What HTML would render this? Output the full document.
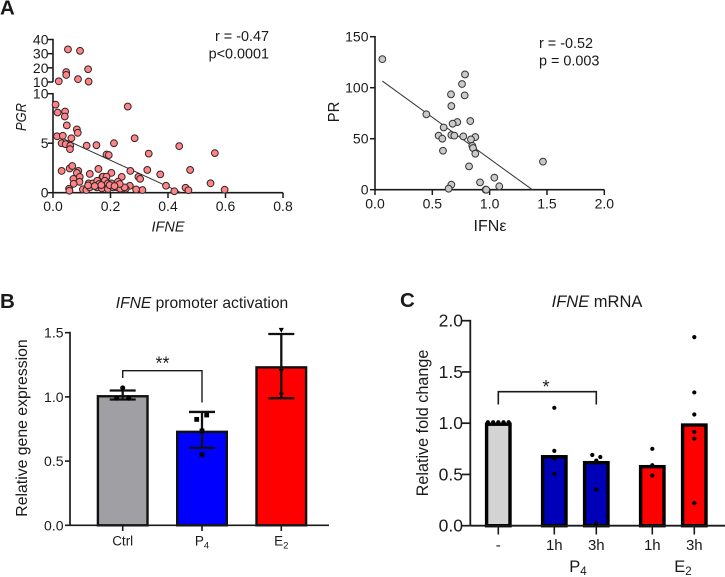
<!DOCTYPE html>
<html>
<head>
<meta charset="utf-8">
<style>
html,body{margin:0;padding:0;background:#fff;width:725px;height:577px;overflow:hidden}
svg{display:block;font-family:"Liberation Sans",sans-serif;fill:#1a1a1a}
text{fill:#1a1a1a}
</style>
</head>
<body>
<svg id="fig" width="725" height="577" viewBox="0 0 725 577" xmlns="http://www.w3.org/2000/svg">
  <text x="0" y="14.5" font-size="20.5" font-weight="bold" fill="#000">A</text>
  <text x="0" y="308" font-size="20.5" font-weight="bold">B</text>
  <text x="400" y="307" font-size="20.5" font-weight="bold">C</text>

  <text x="269" y="41" font-size="14.4" text-anchor="end">r = -0.47</text>
  <text x="269" y="58.5" font-size="14.4" text-anchor="end">p&lt;0.0001</text>
  <text x="168" y="231.5" font-size="14.5" font-style="italic" text-anchor="middle">IFNE</text>
  <text transform="translate(26,117) rotate(-90)" font-size="15" font-style="italic" text-anchor="middle" textLength="28" lengthAdjust="spacingAndGlyphs">PGR</text>

  <text x="539" y="48" font-size="14.4">r = -0.52</text>
  <text x="539" y="65.5" font-size="14.4">p = 0.003</text>
  <text x="490" y="231" font-size="16" text-anchor="middle">IFNε</text>
  <text transform="translate(339,112) rotate(-90)" font-size="15.5" text-anchor="middle" textLength="20.5" lengthAdjust="spacingAndGlyphs">PR</text>

  <text x="202" y="308" font-size="15.6" text-anchor="middle"><tspan font-style="italic">IFNE</tspan> promoter activation</text>
  <text transform="translate(27,428) rotate(-90)" font-size="15.8" text-anchor="middle">Relative gene expression</text>

  <text x="597" y="307" font-size="16.5" text-anchor="middle"><tspan font-style="italic">IFNE</tspan> mRNA</text>
  <text transform="translate(428,423) rotate(-90)" font-size="16.2" text-anchor="middle">Relative fold change</text>
  <text x="578" y="572" font-size="16.5" text-anchor="middle">P<tspan font-size="11.5" dy="3">4</tspan></text>
  <text x="683" y="572" font-size="16.5" text-anchor="middle">E<tspan font-size="11.5" dy="3">2</tspan></text>
</svg>
<script>
// Panel A left: PGR vs IFNE
const pgrIfne = [.052,.094,.122,.046,.046,.087,.02,.124,
 .009,.016,.042,.041,.048,.083,.086,.014,.034,.064,.03,.044,.06,.059,.117,.151,.212,.26,.284,.186,.194,.333,.439,.563,
 .03,.058,.067,.088,.083,.128,.158,.203,.269,.328,.373,.477,.239,.172,.186,.297,.303,.071,.093,.092,.072,.056,.057,.548,.393,.267,.461,.422,.471,.597,.311,.289,.253,.234,
 .104,.116,.124,.128,.139,.154,.153,.16,.174,.17,.186,.18,.191,.191,.203,.209,.226,.223,.234,.249,.122,.145,.197,.232,.214,.168];
const pgrValues = [33,32,19,17,15,12,10.5,10.3,
 8.9,8.1,8.2,7.7,6.8,6.4,6.05,5.7,5.75,5.5,5,4.9,4.75,4.4,4.75,4.8,5,8.7,5.5,3.85,3.8,3.95,4.7,4,
 2.2,2.45,2.7,2.2,2,1.9,2.4,2,2.2,2.3,1.85,2.3,1.6,1.6,1.6,1.6,1.4,1.4,1.6,1.1,.9,.4,.2,.95,.7,.7,.5,.15,.25,.3,.27,.33,.4,.45,
 .34,.27,.94,.54,.94,1.21,.54,.88,1.62,.44,1.62,1.21,.94,.37,.94,.54,1.11,.54,.4,.54,.74,.67,.77,.88,.67,.77];
const pgrFitX = [.014,.446];
const pgrFitY = [5.75,0];
const pgrXTicks = [0,.2,.4,.6,.8];
const pgrYTicksLow = [0,5,10];
const pgrYTicksHigh = [10,20,30,40];

// Panel A right: PR vs IFN-epsilon
const prIfn = [.064,.785,.759,.663,.782,.666,.448,.831,.718,.677,.599,.555,.587,.666,.692,.77,.875,.837,.849,.855,.875,.593,.82,1.465,.916,1.041,1.084,.666,.642,.965,.97];
const prValues = [128,113,103.6,93.5,92.5,82,73.9,67.3,66.3,64.7,61,53,50,53.6,53,52.3,51.6,49.3,43,40.8,35.3,38.2,22.9,27.5,7.2,11.8,3.3,4.9,1,0,0];
const prFitX = [.064,1.372];
const prFitY = [106.5,0];
const prXTicks = [0,.5,1,1.5,2];
const prYTicks = [0,50,100,150];

// Panel B: promoter activation
const promoterGroups = ['Ctrl','P','E'];
const promoterSubs = ['','4','2'];
const promoterMeans = [1.005,.728,1.23];
const promoterErrHigh = [1.05,.883,1.49];
const promoterErrLow = [.98,.603,.99];
const promoterFills = ['#a0a0a4','#0000ff','#ff0000'];
const promoterYTicks = [0,.5,1,1.5];
const ctrlDots = [1.07,.99,.99];
const p4Squares = [.825,.859,.735,.55];
const e2Triangles = [1.52,1.2,1.015];

// Panel C: mRNA
const mrnaLabels = ['-','1h','3h','1h','3h'];
const mrnaMeans = [.99,.673,.615,.576,.982];
const mrnaFills = ['#d3d3d3','#0000b8','#0000b8','#ff0000','#ff0000'];
const mrnaDots0 = [1.01,1.01,1.01,1.01,1.01];
const mrnaDots1 = [1.15,.73,.655,.507];
const mrnaDots2 = [.69,.67,.635,.355,.02];
const mrnaDots3 = [.75,.59,.49];
const mrnaDots4 = [1.84,1.3,1.085,.915,.85,.22];
const mrnaYTicks = [0,.5,1,1.5,2];

const svg = document.getElementById('fig');
const NS = 'http://www.w3.org/2000/svg';
function make(tag, attrs, parent) {
  const el = document.createElementNS(NS, tag);
  for (const k in attrs) el.setAttribute(k, attrs[k]);
  (parent || svg).appendChild(el);
  return el;
}
function seg(x1, y1, x2, y2, w, col) {
  return make('line', {x1, y1, x2, y2, stroke: col || '#1a1a1a', 'stroke-width': w});
}
function label(x, y, str, size, anchor) {
  const t = make('text', {x, y, 'font-size': size, 'text-anchor': anchor});
  t.textContent = str;
  return t;
}

/* ---------- axis functions ---------- */
const xPgr = v => 53 + v / .8 * 230;
const yPgr = v => v <= 10 && v >= 0 ? 192.7 - v * 9.9 : 82 - (v - 10) * 1.4167;
const yPgrHigh = v => 82 - (v - 10) * 1.4167;
const xPr = v => 375 + v / 2 * 229.3;
const yPr = v => 189.7 - v * 1.02;
const yPro = v => 525.3 - v * 128.4;
const xPro = i => 122.7 + i * 79.3;
const yMr = v => 525.7 - v * 102.5;
const mrnaX = [498.3, 554.3, 596.3, 652.3, 694.3];

let el;
/* ---------- Panel A left ---------- */
el = seg(53, 192.7, 283, 192.7, 1.6);


el = seg(53, yPgr(0), 53, yPgr(10) - .7, 1.6);


el = seg(53, yPgrHigh(10), 53, yPgrHigh(40) - .7, 1.6);


pgrXTicks.forEach(v => {
  el = seg(xPgr(v), 192.7, xPgr(v), 198, 1.5);
  
  
  el = label(xPgr(v), 211, v.toFixed(1), 14, 'middle');
  
  
});
pgrYTicksLow.forEach(v => {
  el = seg(48, yPgr(v), 53, yPgr(v), 1.5);
  
  
  el = label(48.5, yPgr(v) + 5, String(v), 14, 'end');
  
  
});
pgrYTicksHigh.forEach(v => {
  el = seg(48, yPgrHigh(v), 53, yPgrHigh(v), 1.5);
  
  
  el = label(48.5, yPgrHigh(v) + 5, String(v), 14, 'end');
  
  
});
el = seg(xPgr(pgrFitX[0]), yPgr(pgrFitY[0]), xPgr(pgrFitX[1]), yPgr(pgrFitY[1]), 1, '#333');


pgrIfne.forEach((x, i) => {
  el = make('circle', {cx: xPgr(x), cy: yPgr(pgrValues[i]), r: 3.4, fill: '#ff8488', stroke: '#332525', 'stroke-width': 1});
  
  
});

/* ---------- Panel A right ---------- */
el = seg(375, 189.7, 604.3, 189.7, 1.6);


el = seg(375, yPr(0), 375, yPr(150) - .7, 1.6);


prXTicks.forEach(v => {
  el = seg(xPr(v), 189.7, xPr(v), 195, 1.5);
  
  
  el = label(xPr(v), 208.5, v.toFixed(1), 14, 'middle');
  
  
});
prYTicks.forEach(v => {
  el = seg(370, yPr(v), 375, yPr(v), 1.5);
  
  
  el = label(368.5, yPr(v) + 5, String(v), 14, 'end');
  
  
});
el = seg(xPr(prFitX[0]), yPr(prFitY[0]), xPr(prFitX[1]), yPr(prFitY[1]), 1, '#333');


prIfn.forEach((x, i) => {
  el = make('circle', {cx: xPr(x), cy: yPr(prValues[i]), r: 3.4, fill: '#c9c9c9', stroke: '#333', 'stroke-width': 1});
  
  
});

/* ---------- Panel B ---------- */
promoterMeans.forEach((m, i) => {
  el = make('rect', {x: xPro(i) - 24.8, y: yPro(m), width: 49.6, height: yPro(0) - yPro(m), fill: promoterFills[i], stroke: '#111', 'stroke-width': 2.4});
  
  
});
el = seg(70, 525.3, 329, 525.3, 1.7);


el = seg(70, yPro(0), 70, yPro(1.5) - 1, 1.7);


promoterYTicks.forEach(v => {
  el = seg(65, yPro(v), 70, yPro(v), 1.6);
  
  
  el = label(63.5, yPro(v) + 5, v.toFixed(1), 14, 'end');
  
  
});
promoterGroups.forEach((g, i) => {
  el = seg(xPro(i), 525.3, xPro(i), 531, 1.6);
  
  
  el = label(xPro(i), 545.5, g, 13.5, 'middle');
  
  
  if (promoterSubs[i]) {
    const s = make('tspan', {'font-size': 9.5, dy: 3});
    s.textContent = promoterSubs[i];
    el.appendChild(s);
  }
  el = seg(xPro(i), yPro(promoterErrHigh[i]), xPro(i), yPro(promoterErrLow[i]), 2.3, '#111');
  
  
  el = seg(xPro(i) - 13, yPro(promoterErrHigh[i]), xPro(i) + 13, yPro(promoterErrHigh[i]), 2.3, '#111');
  
  
  el = seg(xPro(i) - 13, yPro(promoterErrLow[i]), xPro(i) + 13, yPro(promoterErrLow[i]), 2.3, '#111');
  
  
});
ctrlDots.forEach((v, i) => {
  el = make('circle', {cx: xPro(0) + [0, -6, 6][i], cy: yPro(v), r: 2.5, fill: '#000'});
  
  
});
p4Squares.forEach((v, i) => {
  const cx = xPro(1) + [-5.3, 4.7, 0, 0][i];
  el = make('rect', {x: cx - 2.4, y: yPro(v) - 2.4, width: 4.8, height: 4.8, fill: '#000'});
  
  
});
e2Triangles.forEach(v => {
  const cx = xPro(2), cy = yPro(v);
  el = make('polygon', {points: (cx - 2.6) + ',' + (cy - 2.2) + ' ' + (cx + 2.6) + ',' + (cy - 2.2) + ' ' + cx + ',' + (cy + 2.6), fill: '#000'});
  
  
});
el = make('path', {d: 'M' + xPro(0) + ' 378V370.7H' + xPro(1) + 'V402.5', fill: 'none', stroke: '#1a1a1a', 'stroke-width': 1.4});


el = label(162.5, 369.5, '**', 18, 'middle');



/* ---------- Panel C ---------- */
mrnaMeans.forEach((m, i) => {
  el = make('rect', {x: mrnaX[i] - 11.7, y: yMr(m), width: 23.4, height: yMr(0) - yMr(m), fill: mrnaFills[i], stroke: '#000', 'stroke-width': 3.4});
  
  
});
el = seg(470.3, 525.7, 725, 525.7, 1.8);


el = seg(470.3, yMr(0), 470.3, yMr(2) - .8, 1.8);


mrnaYTicks.forEach(v => {
  el = seg(462, yMr(v), 470.3, yMr(v), 1.7);
  
  
  el = label(463, yMr(v) + 6, v.toFixed(1), 17.5, 'end');
  
  
});
mrnaLabels.forEach((t, i) => {
  el = seg(mrnaX[i], 526, mrnaX[i], 534.5, 1.6);
  
  
  el = label(mrnaX[i], 550, t, 15, 'middle');
  
  
});
mrnaDots0.forEach((v, i) => {
  el = make('circle', {cx: mrnaX[0] + (i - 2) * 5.2, cy: yMr(v), r: 2.1, fill: '#000'});
  
  
});
mrnaDots1.forEach(v => {
  el = make('circle', {cx: mrnaX[1], cy: yMr(v), r: 2.1, fill: '#000'});
  
  
});
mrnaDots2.forEach((v, i) => {
  el = make('circle', {cx: mrnaX[2] + [-4, 4, 0, 0, 0][i], cy: yMr(v), r: 2.1, fill: '#000'});
  
  
});
mrnaDots3.forEach(v => {
  el = make('circle', {cx: mrnaX[3], cy: yMr(v), r: 2.1, fill: '#000'});
  
  
});
mrnaDots4.forEach(v => {
  el = make('circle', {cx: mrnaX[4], cy: yMr(v), r: 2.1, fill: '#000'});
  
  
});
el = make('path', {d: 'M' + mrnaX[0] + ' 404.5V391.7H' + mrnaX[2] + 'V404.5', fill: 'none', stroke: '#1a1a1a', 'stroke-width': 1.6});


el = label(546, 393, '*', 18, 'middle');


</script>
</body>
</html>
